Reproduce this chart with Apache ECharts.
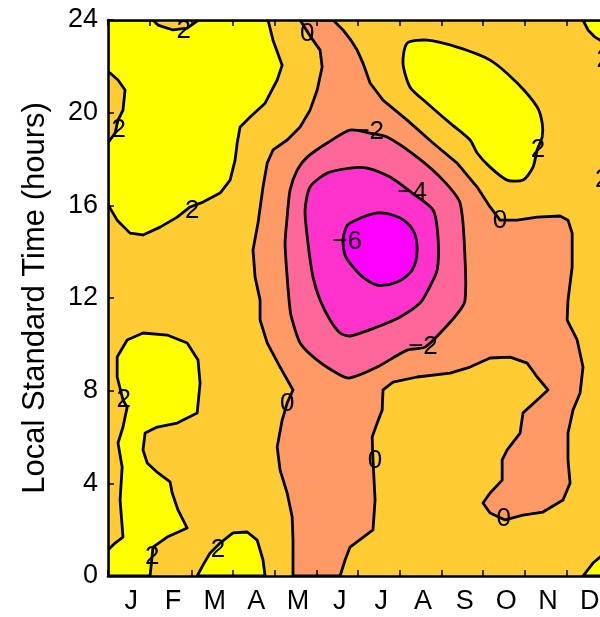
<!DOCTYPE html>
<html><head><meta charset="utf-8">
<script src="https://cdn.jsdelivr.net/npm/echarts@6/dist/echarts.min.js"></script>
<style>html,body{margin:0;padding:0;background:#fff}#c{width:600px;height:617px}</style>
</head><body><div id="c"></div>
<script>
// Axis content
const months = ['J','F','M','A','M','J','J','A','S','O','N','D'];
const yAxisTitle = 'Local Standard Time (hours)';

// Contour regions: [month (0 = start of Jan, 12 = end of Dec), hour]
// values > 2
const yellowNW = [[0,24],[1.08,24],[1.20,23.78],[1.56,23.57],[1.90,23.65],[2.14,23.95],[2.14,24],[3.84,24],[3.96,23.13],[4.18,22.05],[4.06,21.41],[3.77,20.41],[3.41,19.81],[3.17,19.38],[3.10,18.69],[3.05,17.95],[2.93,17.09],[2.69,16.53],[2.28,16.14],[1.97,15.93],[1.66,15.49],[1.25,15.06],[0.84,14.72],[0.53,14.80],[0.22,15.36],[0.05,15.88],[0,16.01],[0,18.69],[0.17,19.12],[0.24,19.68],[0.36,20.11],[0.41,20.98],[0.24,21.41],[0.05,21.71],[0,21.75]];
const yellowNE = [[7.18,23.0],[7.66,23.13],[8.38,22.83],[9.17,22.27],[9.82,21.28],[10.30,20.24],[10.42,19.55],[10.42,18.95],[10.30,18.39],[10.20,17.65],[9.96,17.09],[9.58,17.09],[9.17,17.65],[8.86,18.26],[8.69,18.82],[8.21,19.55],[7.66,20.41],[7.25,21.10],[7.08,22.14]];
const yellowCorner = [[11.40,24],[11.52,23.57],[11.69,23.26],[11.81,23.13],[12,22.92],[12,24]];
const yellowSW = [[0,0],[0,1.12],[0.17,1.42],[0.36,1.68],[0.29,3.28],[0.34,4.70],[0.24,5.74],[0.36,6.43],[0.46,7.29],[0.36,7.60],[0.22,8.59],[0.22,9.45],[0.46,10.19],[0.84,10.49],[1.42,10.40],[1.90,10.06],[2.16,9.32],[2.21,8.33],[2.14,7.04],[1.66,6.60],[1.18,6.43],[0.89,6.17],[0.84,5.44],[0.94,4.88],[1.20,4.45],[1.49,4.06],[1.54,3.58],[1.68,2.85],[1.90,2.07],[1.42,1.68],[1.08,1.25],[1.01,0]];
const yellowS = [[2.14,0],[2.28,0.47],[2.45,0.99],[2.69,1.42],[3.00,1.86],[3.34,1.90],[3.58,1.55],[3.72,0.69],[3.77,0]];
const yellowSE = [[11.40,0],[11.64,0.56],[11.81,0.82],[12,1.04],[12,0]];
// values < 0
const belowZero = [[4.61,24],[4.73,23.65],[4.92,23.13],[5.09,22.70],[5.14,21.97],[5.02,20.98],[4.85,20.11],[4.61,19.38],[4.30,18.82],[3.96,18.39],[3.82,17.82],[3.72,16.79],[3.60,15.24],[3.48,14.07],[3.53,12.90],[3.65,11.91],[3.65,11.05],[3.82,10.06],[4.13,9.02],[4.44,8.03],[4.30,7.47],[4.18,6.73],[4.06,5.57],[4.13,4.57],[4.30,3.58],[4.42,2.55],[4.44,1.55],[4.44,0],[5.57,0],[5.69,0.69],[5.81,1.25],[6.36,1.99],[6.41,3.28],[6.36,5.01],[6.34,6.00],[6.46,6.60],[6.58,7.16],[6.60,8.03],[6.84,8.37],[7.42,8.59],[8.21,8.76],[8.69,9.02],[9.17,9.41],[9.65,9.45],[10.06,9.19],[10.30,8.59],[10.56,8.03],[10.30,7.60],[9.96,7.04],[9.89,6.17],[9.58,5.44],[9.46,5.01],[9.46,4.14],[9.17,3.58],[9.00,3.15],[9.17,2.72],[9.53,2.42],[9.96,2.63],[10.44,2.76],[10.92,3.28],[11.09,4.01],[11.04,5.01],[11.04,6.17],[11.16,7.16],[11.33,7.90],[11.40,9.02],[11.26,10.19],[11.02,11.05],[11.04,11.91],[11.14,13.34],[11.14,14.80],[11.04,15.36],[10.85,15.54],[10.30,15.49],[9.82,15.36],[9.41,15.36],[9.17,15.93],[8.86,16.79],[8.38,17.82],[7.80,18.69],[7.18,19.68],[6.60,20.54],[6.29,21.28],[6.12,22.14],[5.98,22.70],[5.83,23.13],[5.64,23.57],[5.40,24]];
// values < -2
const belowMinus2 = [[5.81,19.25],[5.26,18.69],[4.78,18.08],[4.54,17.52],[4.37,16.66],[4.30,15.49],[4.25,14.37],[4.30,12.90],[4.37,11.48],[4.42,11.05],[4.61,10.06],[5.02,9.32],[5.57,8.68],[5.81,8.55],[6.46,9.02],[7.18,9.75],[7.61,9.88],[8.04,10.62],[8.45,11.48],[8.57,11.91],[8.57,13.64],[8.45,16.10],[8.04,17.09],[7.42,18.08],[6.70,18.95],[6.29,19.12]];
// values < -4
const belowMinus4 = [[5.81,17.61],[5.26,17.39],[4.85,16.79],[4.73,15.80],[4.80,14.37],[4.92,12.90],[5.09,11.91],[5.33,11.05],[5.57,10.49],[5.81,10.36],[6.46,10.75],[7.01,11.18],[7.49,11.78],[7.68,12.34],[7.90,13.21],[7.92,14.63],[7.80,15.80],[7.30,16.53],[6.77,17.22],[6.22,17.61]];
// values < -6
const belowMinus6 = [[5.81,15.24],[6.46,15.67],[7.01,15.45],[7.32,14.93],[7.42,14.07],[7.30,13.21],[6.94,12.69],[6.46,12.56],[6.12,12.90],[5.88,13.34],[5.69,13.85],[5.64,14.50],[5.71,15.02]];

// Contour labels
const labelPos = [[1.82,23.53],[0.26,19.25],[2.02,15.75],[4.78,23.39],[6.27,19.16],[7.30,16.53],[5.74,14.42],[10.32,18.39],[9.41,15.32],[7.56,9.88],[4.30,7.42],[0.38,7.60],[6.41,4.96],[9.50,2.46],[1.06,0.82],[2.64,1.12],[11.90,22.30],[11.86,17.10]];
const labelText = ['2','2','2','0','\u22122','\u22124','\u22126','2','0','\u22122','0','2','0','0','2','2','2','2'];

// Styles
const fills = {gt2:'#FFFF00', lt0:'#FF9966', ltm2:'#FF6699', ltm4:'#FF33CC', ltm6:'#FF00FF'};
const bandBase = '#FFCC33';
const FONT = '"Liberation Sans", Arial, Helvetica, sans-serif';

const regions = [
  {pts: belowZero, level:'lt0', smooth:0},
  {pts: yellowNW, level:'gt2', smooth:0},
  {pts: yellowNE, level:'gt2', smooth:0.25},
  {pts: yellowCorner, level:'gt2', smooth:0},
  {pts: yellowSW, level:'gt2', smooth:0},
  {pts: yellowS, level:'gt2', smooth:0},
  {pts: yellowSE, level:'gt2', smooth:0},
  {pts: belowMinus2, level:'ltm2', smooth:0.25},
  {pts: belowMinus4, level:'ltm4', smooth:0.25},
  {pts: belowMinus6, level:'ltm6', smooth:0.3}
];

const chart = echarts.init(document.getElementById('c'), null, {renderer:'canvas'});
const axisLine = {show:true, onZero:false, lineStyle:{color:'#000', width:2.5}};
const tick = {show:true, inside:true, length:6, lineStyle:{color:'#000', width:1.5}};
chart.setOption({
  animation:false,
  backgroundColor:'#fff',
  grid:{left:108, top:20, width:500, height:556, show:true, backgroundColor:bandBase, borderWidth:0,
        containLabel:false, outerBoundsMode:'none'},
  xAxis:[
    {type:'value', min:0, max:12, interval:1, position:'bottom', z:10, axisLine, axisTick:tick, axisLabel:{show:false}, splitLine:{show:false}},
    {type:'value', min:0, max:12, interval:1, position:'top', z:10, axisLine, axisTick:tick, axisLabel:{show:false}, splitLine:{show:false}},
    {type:'category', data:months, position:'bottom', z:10, axisLine:{show:false}, axisTick:{show:false}, splitLine:{show:false},
     axisLabel:{color:'#000', fontSize:27, fontFamily:FONT, margin:12, padding:[0,0,0,5], interval:0}}
  ],
  yAxis:[
    {type:'value', min:0, max:24, interval:4, position:'left', z:10, axisLine, axisTick:tick, splitLine:{show:false},
     axisLabel:{color:'#000', fontSize:27, fontFamily:FONT, margin:10},
     name:yAxisTitle, nameLocation:'middle', nameGap:57, nameTextStyle:{color:'#000', fontSize:31, fontFamily:FONT}},
    {type:'value', min:0, max:24, interval:4, position:'right', z:10, axisLine, axisTick:tick, axisLabel:{show:false}, splitLine:{show:false}}
  ],
  series:[
    {type:'custom', xAxisIndex:0, yAxisIndex:0, clip:true, z:2,
     data: regions.map((r,i)=>[i,0]),
     renderItem(params, api){
       const r = regions[params.dataIndex];
       return {type:'polygon', shape:{points:r.pts.map(p=>api.coord(p)), smooth:r.smooth},
               style:{fill:fills[r.level], stroke:'#000', lineWidth:2.8, lineJoin:'round'}};
     }},
    {type:'custom', xAxisIndex:0, yAxisIndex:0, clip:true, z:5,
     data: labelPos,
     renderItem(params, api){
       const pt = api.coord([api.value(0), api.value(1)]);
       return {type:'text', x:pt[0], y:pt[1],
               style:{text:labelText[params.dataIndex], fill:'#000', font:'26px ' + FONT, align:'center', verticalAlign:'middle'}};
     }}
  ]
});
</script></body></html>
